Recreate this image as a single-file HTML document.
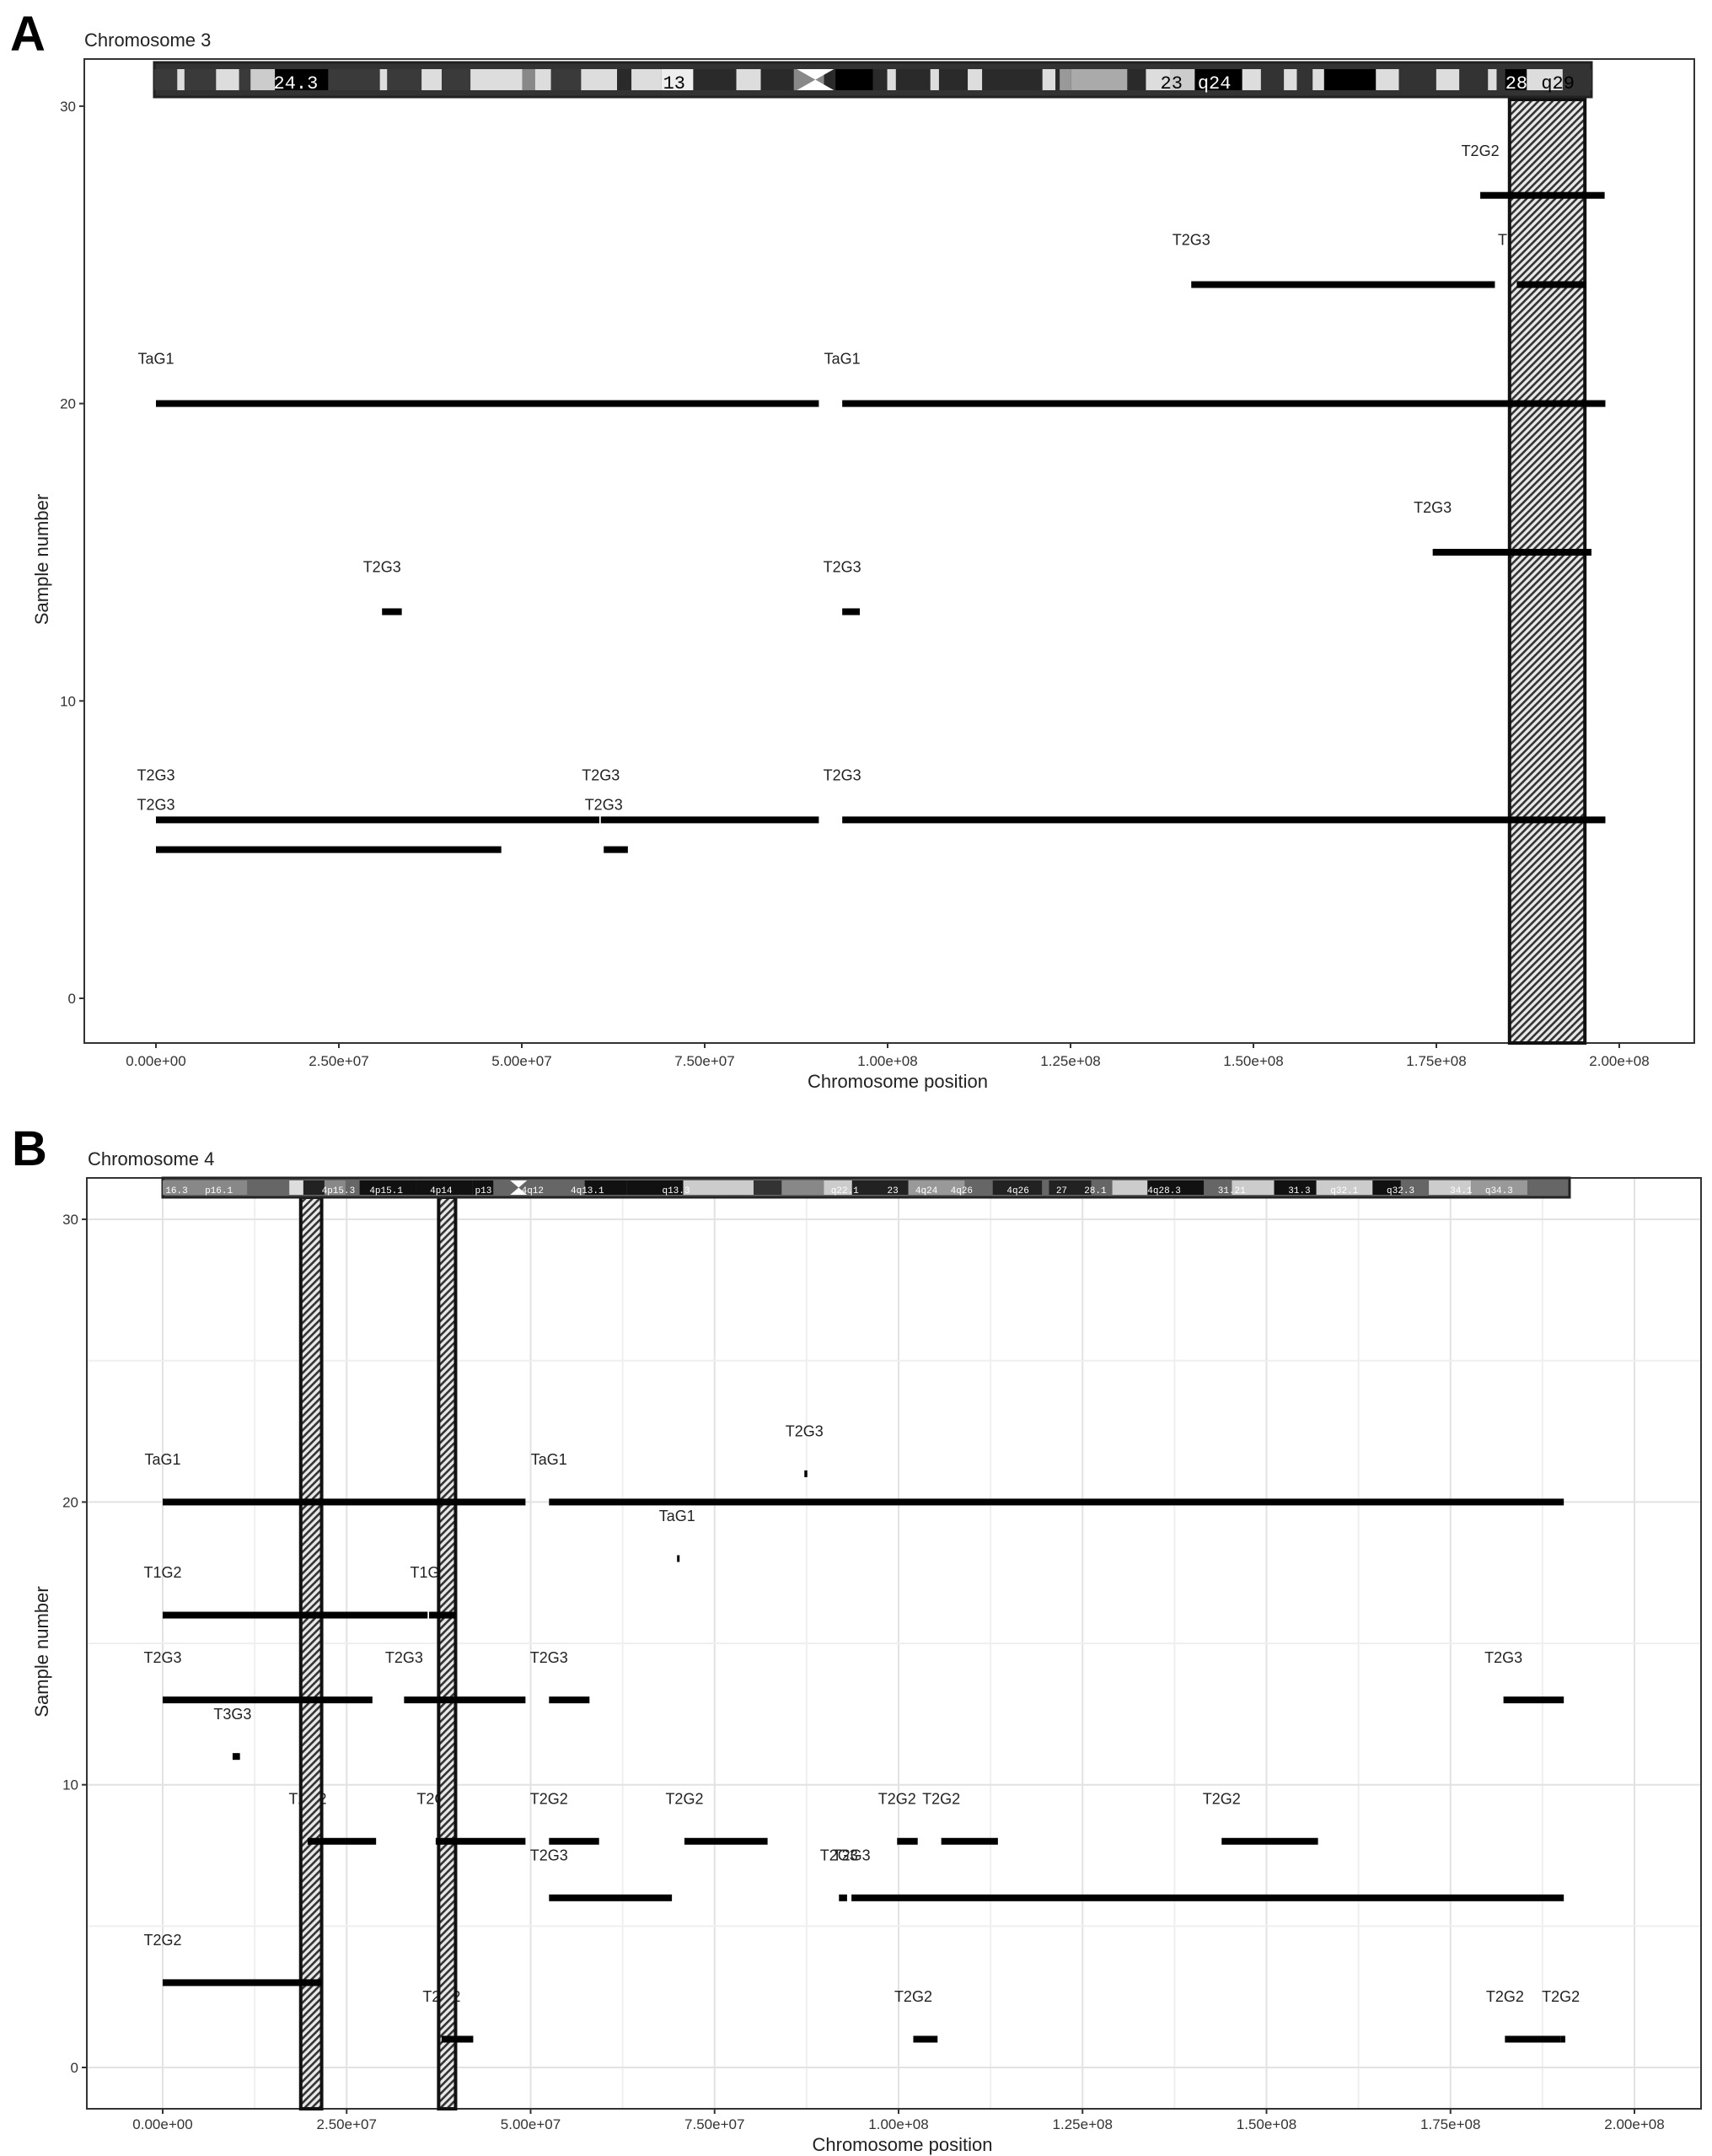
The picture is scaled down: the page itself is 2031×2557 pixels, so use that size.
<!DOCTYPE html>
<html><head><meta charset="utf-8">
<style>
html,body{margin:0;padding:0;background:#fff;}
svg{display:block;font-family:"Liberation Sans",sans-serif;}
</style></head>
<body>
<svg id="fig" width="2031" height="2557" viewBox="0 0 2031 2557" xmlns="http://www.w3.org/2000/svg">
<defs>
<pattern id="hatch" patternUnits="userSpaceOnUse" width="6" height="6" patternTransform="rotate(-45)">
<rect width="6" height="6" fill="#e8e8e8"/><rect width="6" height="2.6" fill="#333"/>
</pattern>
</defs>
</svg>
<script>
// ---------- Panel A data (chromosome 3) ----------
const aRows   = [27, 24, 24, 20, 20, 15, 13, 13, 6, 6, 6, 5, 5];
const aStarts = [1.81e8, 1.415e8, 1.86e8, 0, 0.938e8, 1.745e8, 0.309e8, 0.938e8, 0, 0.608e8, 0.938e8, 0, 0.612e8];
const aEnds   = [1.98e8, 1.83e8, 1.955e8, 0.906e8, 1.981e8, 1.962e8, 0.336e8, 0.962e8, 0.606e8, 0.906e8, 1.981e8, 0.472e8, 0.645e8];
const aLabels = ["T2G2","T2G3","T2G3","TaG1","TaG1","T2G3","T2G3","T2G3","T2G3","T2G3","T2G3","T2G3","T2G3"];
const aHatchStart = [1.85e8];
const aHatchEnd   = [1.953e8];
// ---------- Panel B data (chromosome 4) ----------
const bRows   = [21, 20, 20, 18, 16, 16, 13, 13, 13, 13, 11, 8, 8, 8, 8, 8, 8, 8, 6, 6, 6, 3, 1, 1, 1, 1];
const bStarts = [8.72e7, 0, 5.25e7, 6.99e7, 0, 3.62e7, 0, 3.28e7, 5.25e7, 1.822e8, 0.95e7, 1.97e7, 3.71e7, 5.25e7, 7.09e7, 9.98e7, 1.058e8, 1.439e8, 5.25e7, 9.19e7, 9.36e7, 0, 3.79e7, 1.02e8, 1.824e8, 1.9e8];
const bEnds   = [8.76e7, 4.93e7, 1.904e8, 7.01e7, 3.6e7, 3.98e7, 2.85e7, 4.93e7, 5.8e7, 1.904e8, 1.05e7, 2.9e7, 4.93e7, 5.93e7, 8.22e7, 1.026e8, 1.135e8, 1.57e8, 6.92e7, 9.3e7, 1.904e8, 2.16e7, 4.22e7, 1.053e8, 1.9e8, 1.906e8];
const bLabels = ["T2G3","TaG1","TaG1","TaG1","T1G2","T1G2","T2G3","T2G3","T2G3","T2G3","T3G3","T2G2","T2G2","T2G2","T2G2","T2G2","T2G2","T2G2","T2G3","T2G3","T2G3","T2G2","T2G2","T2G2","T2G2","T2G2"];
const bHatchStart = [1.876e7, 3.75e7];
const bHatchEnd   = [2.16e7, 3.98e7];
// ---------- ticks ----------
const xTicks = [0, 2.5e7, 5e7, 7.5e7, 1e8, 1.25e8, 1.5e8, 1.75e8, 2e8];
const xTickLabels = ["0.00e+00","2.50e+07","5.00e+07","7.50e+07","1.00e+08","1.25e+08","1.50e+08","1.75e+08","2.00e+08"];
const yTicks = [0, 10, 20, 30];

const NS = "http://www.w3.org/2000/svg";
const svg = document.getElementById('fig');
function mk(tag, attrs, parent, text) {
  const e = document.createElementNS(NS, tag);
  for (const k in attrs) e.setAttribute(k, attrs[k]);
  if (text !== undefined) e.textContent = text;
  (parent || svg).appendChild(e);
  return e;
}

function panel(cfg) {
  const g = mk('g', {});
  
  
  const X = v => cfg.x0 + (v / 1e8) * cfg.xs;
  const Y = v => cfg.y0 - v * cfg.ys;
  let t = mk('text', {x: cfg.letterX, y: cfg.letterY, 'font-size': 58, 'font-weight': 'bold', fill: '#000'}, g, cfg.letter);
  
  
  t = mk('text', {x: cfg.titleX, y: cfg.titleY, 'font-size': 22, fill: '#222'}, g, cfg.title);
  
  
  if (cfg.grid) {
    for (let v = 0; v <= 2.1e8; v += 1.25e7) {
      const l = mk('line', {x1: X(v), x2: X(v), y1: cfg.top, y2: cfg.bottom, stroke: v % 2.5e7 === 0 ? '#e2e2e2' : '#efefef', 'stroke-width': 2}, g);
      
      
    }
    for (let v = 0; v <= 30; v += 5) {
      const l = mk('line', {x1: cfg.left, x2: cfg.right, y1: Y(v), y2: Y(v), stroke: v % 10 === 0 ? '#e2e2e2' : '#efefef', 'stroke-width': 2}, g);
      
      
    }
  }
  const fr = mk('rect', {x: cfg.left, y: cfg.top, width: cfg.right - cfg.left, height: cfg.bottom - cfg.top, fill: 'none', stroke: '#333', 'stroke-width': 2}, g);
  
  
  xTicks.forEach((v, i) => {
    const l = mk('line', {x1: X(v), x2: X(v), y1: cfg.bottom, y2: cfg.bottom + 6, stroke: '#333', 'stroke-width': 2}, g);
    
    
    const tt = mk('text', {x: X(v), y: cfg.bottom + cfg.tickOff, 'font-size': 17, 'text-anchor': 'middle', fill: '#333'}, g, xTickLabels[i]);
    
    
  });
  yTicks.forEach(v => {
    const l = mk('line', {x1: cfg.left - 6, x2: cfg.left, y1: Y(v), y2: Y(v), stroke: '#333', 'stroke-width': 2}, g);
    
    
    const tt = mk('text', {x: cfg.left - 10, y: Y(v) + 6, 'font-size': 17, 'text-anchor': 'end', fill: '#333'}, g, String(v));
    
    
  });
  t = mk('text', {x: (cfg.left + cfg.right) / 2 + 10, y: cfg.bottom + cfg.titleOff, 'font-size': 22, 'text-anchor': 'middle', fill: '#222'}, g, 'Chromosome position');
  
  
  t = mk('text', {x: 0, y: 0, 'font-size': 22, 'text-anchor': 'middle', fill: '#222', transform: `translate(57 ${(cfg.top + cfg.bottom) / 2 + 10}) rotate(-90)`}, g, 'Sample number');
  
  
  cfg.rows.forEach((r, i) => {
    const lt = mk('text', {x: X(cfg.starts[i]), y: Y(r + 1.5) + 6, 'font-size': 18, 'text-anchor': 'middle', fill: '#222'}, g, cfg.labels[i]);
    
    
  });
  cfg.hs.forEach((s, i) => {
    const h = mk('rect', {x: X(s), y: cfg.hTop, width: X(cfg.he[i]) - X(s), height: cfg.bottom - cfg.hTop, fill: 'url(#hatch)', stroke: '#111', 'stroke-width': 4}, g);
    
    
  });
  cfg.rows.forEach((r, i) => {
    const w = Math.max(X(cfg.ends[i]) - X(cfg.starts[i]), 3);
    const b = mk('rect', {x: X(cfg.starts[i]), y: Y(r) - 4, width: w, height: 8, fill: '#000'}, g);
    
    
  });
  const id = mk('g', {}, g);
  
  
  mk('rect', {x: cfg.idL, y: cfg.idT, width: cfg.idR - cfg.idL, height: cfg.idB - cfg.idT, fill: cfg.idBg, stroke: '#222', 'stroke-width': 3}, id);
  const inT = cfg.idT + cfg.inset, inB = cfg.idB - cfg.inset;
  cfg.bands.forEach(bd => {
    const x1 = cfg.idL + bd[0] * (cfg.idR - cfg.idL), x2 = cfg.idL + bd[1] * (cfg.idR - cfg.idL);
    mk('rect', {x: x1, y: inT, width: x2 - x1, height: inB - inT, fill: bd[2]}, id);
  });
  cfg.bandText.forEach(bt => {
    mk('text', {x: cfg.idL + bt[0] * (cfg.idR - cfg.idL), y: inB - 2, 'font-size': cfg.btSize, fill: bt[2] || '#fff', 'font-family': 'Liberation Mono, monospace'}, id, bt[1]);
  });
  const cx = cfg.idL + cfg.cen * (cfg.idR - cfg.idL), cw = cfg.cenW;
  mk('path', {d: `M${cx - cw} ${inT} L${cx + cw} ${inT} L${cx} ${(inT + inB) / 2} Z M${cx - cw} ${inB} L${cx + cw} ${inB} L${cx} ${(inT + inB) / 2} Z`, fill: '#fff'}, id);
}

const bandsA = [[0,0.3,'#3a3a3a'],[0.3,0.7,'#2a2a2a'],[0.7,1,'#333'],
 [0.016,0.021,'#ddd'],[0.043,0.059,'#ddd'],[0.067,0.084,'#ccc'],[0.084,0.121,'#000'],[0.157,0.162,'#ddd'],[0.186,0.2,'#ddd'],[0.22,0.256,'#ddd'],[0.256,0.265,'#888'],[0.265,0.276,'#ddd'],[0.297,0.322,'#ddd'],[0.332,0.353,'#ddd'],[0.353,0.375,'#eee'],[0.405,0.422,'#ddd'],[0.445,0.466,'#888'],[0.474,0.5,'#000'],[0.51,0.516,'#ddd'],[0.54,0.546,'#ddd'],[0.566,0.576,'#ddd'],[0.618,0.627,'#ddd'],[0.63,0.638,'#999'],[0.638,0.677,'#aaa'],[0.69,0.707,'#ddd'],[0.707,0.724,'#ccc'],[0.724,0.757,'#000'],[0.757,0.77,'#ddd'],[0.786,0.795,'#ddd'],[0.806,0.814,'#ddd'],[0.814,0.85,'#000'],[0.85,0.866,'#ddd'],[0.892,0.908,'#ddd'],[0.928,0.934,'#ddd'],[0.94,0.955,'#000'],[0.955,0.98,'#ddd'],[0.98,1,'#333']];
const textA = [[0.083,'24.3'],[0.354,'13','#000'],[0.7,'23','#000'],[0.726,'q24'],[0.94,'28'],[0.965,'q29','#000']];
const bandsB = [[0,0.06,'#888'],[0.09,0.1,'#ddd'],[0.1,0.115,'#222'],[0.115,0.13,'#888'],[0.14,0.18,'#111'],[0.18,0.22,'#111'],[0.22,0.235,'#111'],[0.3,0.33,'#111'],[0.33,0.37,'#111'],[0.37,0.42,'#ccc'],[0.42,0.44,'#333'],[0.44,0.47,'#888'],[0.47,0.49,'#ccc'],[0.49,0.53,'#222'],[0.53,0.57,'#999'],[0.59,0.625,'#222'],[0.63,0.66,'#222'],[0.675,0.7,'#ccc'],[0.7,0.74,'#111'],[0.76,0.79,'#ccc'],[0.79,0.82,'#111'],[0.82,0.86,'#ccc'],[0.86,0.88,'#111'],[0.9,0.93,'#ccc'],[0.93,0.97,'#999']];
const textB = [[0.002,'16.3'],[0.03,'p16.1'],[0.113,'4p15.3'],[0.147,'4p15.1'],[0.19,'4p14'],[0.222,'p13'],[0.255,'4q12'],[0.29,'4q13.1'],[0.355,'q13.3'],[0.475,'q22.1'],[0.515,'23'],[0.535,'4q24'],[0.56,'4q26'],[0.6,'4q26'],[0.635,'27'],[0.655,'28.1'],[0.7,'4q28.3'],[0.75,'31.21'],[0.8,'31.3'],[0.83,'q32.1'],[0.87,'q32.3'],[0.915,'34.1'],[0.94,'q34.3']];

panel({name:'panel-a-chromosome-3', letter:'A', letterX:12, letterY:60, title:'Chromosome 3', titleX:100, titleY:55,
  left:100, right:2010, top:70, bottom:1237, x0:185, xs:868, y0:1184, ys:35.27, grid:false, tickOff:27, titleOff:53,
  rows:aRows, starts:aStarts, ends:aEnds, labels:aLabels, hs:aHatchStart, he:aHatchEnd, hTop:118,
  idL:183, idR:1888, idT:74, idB:115, inset:8, idBg:'#333', bands:bandsA, bandText:textA, btSize:22, cen:0.46, cenW:22});
panel({name:'panel-b-chromosome-4', letter:'B', letterX:14, letterY:1382, title:'Chromosome 4', titleX:104, titleY:1382,
  left:103, right:2018, top:1397, bottom:2501, x0:193, xs:873, y0:2452, ys:33.53, grid:true, tickOff:24, titleOff:50,
  rows:bRows, starts:bStarts, ends:bEnds, labels:bLabels, hs:bHatchStart, he:bHatchEnd, hTop:1420,
  idL:193, idR:1862, idT:1397, idB:1420, inset:3, idBg:'#666', bands:bandsB, bandText:textB, btSize:11, cen:0.253, cenW:10});
</script>
</body></html>
